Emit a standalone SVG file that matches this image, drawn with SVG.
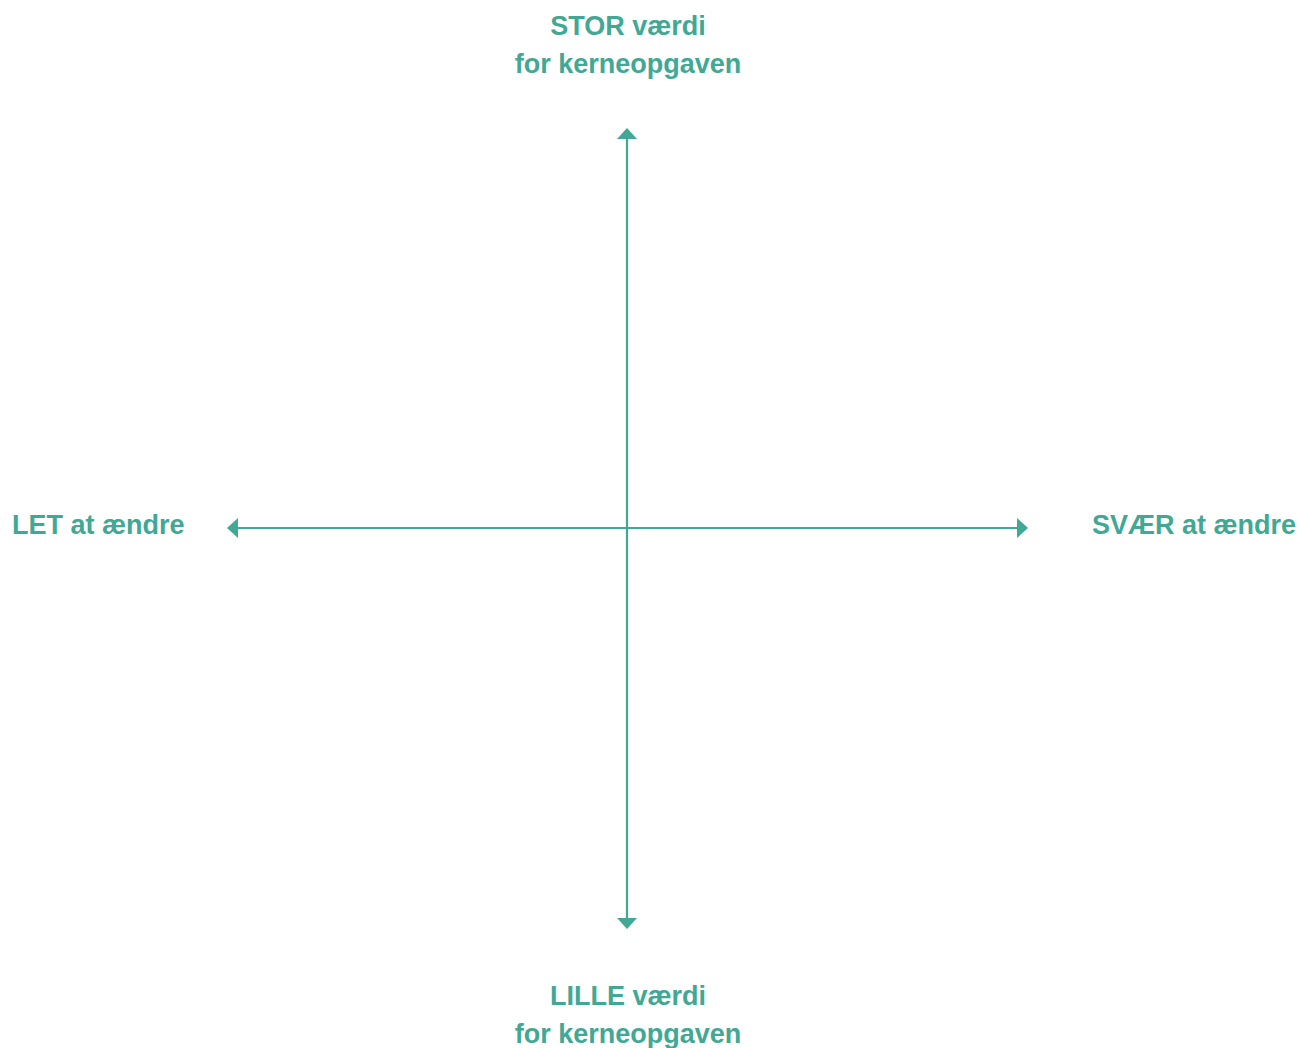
<svg xmlns="http://www.w3.org/2000/svg" width="1299" height="1048" viewBox="0 0 1299 1048">
<style>
.lbl{font-family:"Liberation Sans",Arial,sans-serif;font-weight:bold;font-size:27px;fill:#40a894}
.ax{stroke:#40a894;stroke-width:2.2;fill:none}
.ah{fill:#40a894}
</style>
<rect width="1299" height="1048" fill="#ffffff"/>
<g id="connectors">
<line class="ax" x1="627" y1="136" x2="627" y2="920"/>
<line class="ax" x1="236" y1="528" x2="1019" y2="528"/>
<polygon class="ah" points="627,128 617,139 637,139"/>
<polygon class="ah" points="627,929 617,918 637,918"/>
<polygon class="ah" points="227,528 238,518 238,538"/>
<polygon class="ah" points="1028,528 1017,518 1017,538"/>
</g>
<g id="top">
<text class="lbl" x="628" y="35" text-anchor="middle">STOR værdi</text>
<text class="lbl" x="628" y="73" text-anchor="middle">for kerneopgaven</text>
</g>
<g id="bottom">
<text class="lbl" x="628" y="1005" text-anchor="middle">LILLE værdi</text>
<text class="lbl" x="628" y="1043" text-anchor="middle">for kerneopgaven</text>
</g>
<g id="left">
<text class="lbl" x="12" y="534">LET at ændre</text>
</g>
<g id="right">
<text class="lbl" x="1296" y="534" text-anchor="end">SVÆR at ændre</text>
</g>
</svg>
